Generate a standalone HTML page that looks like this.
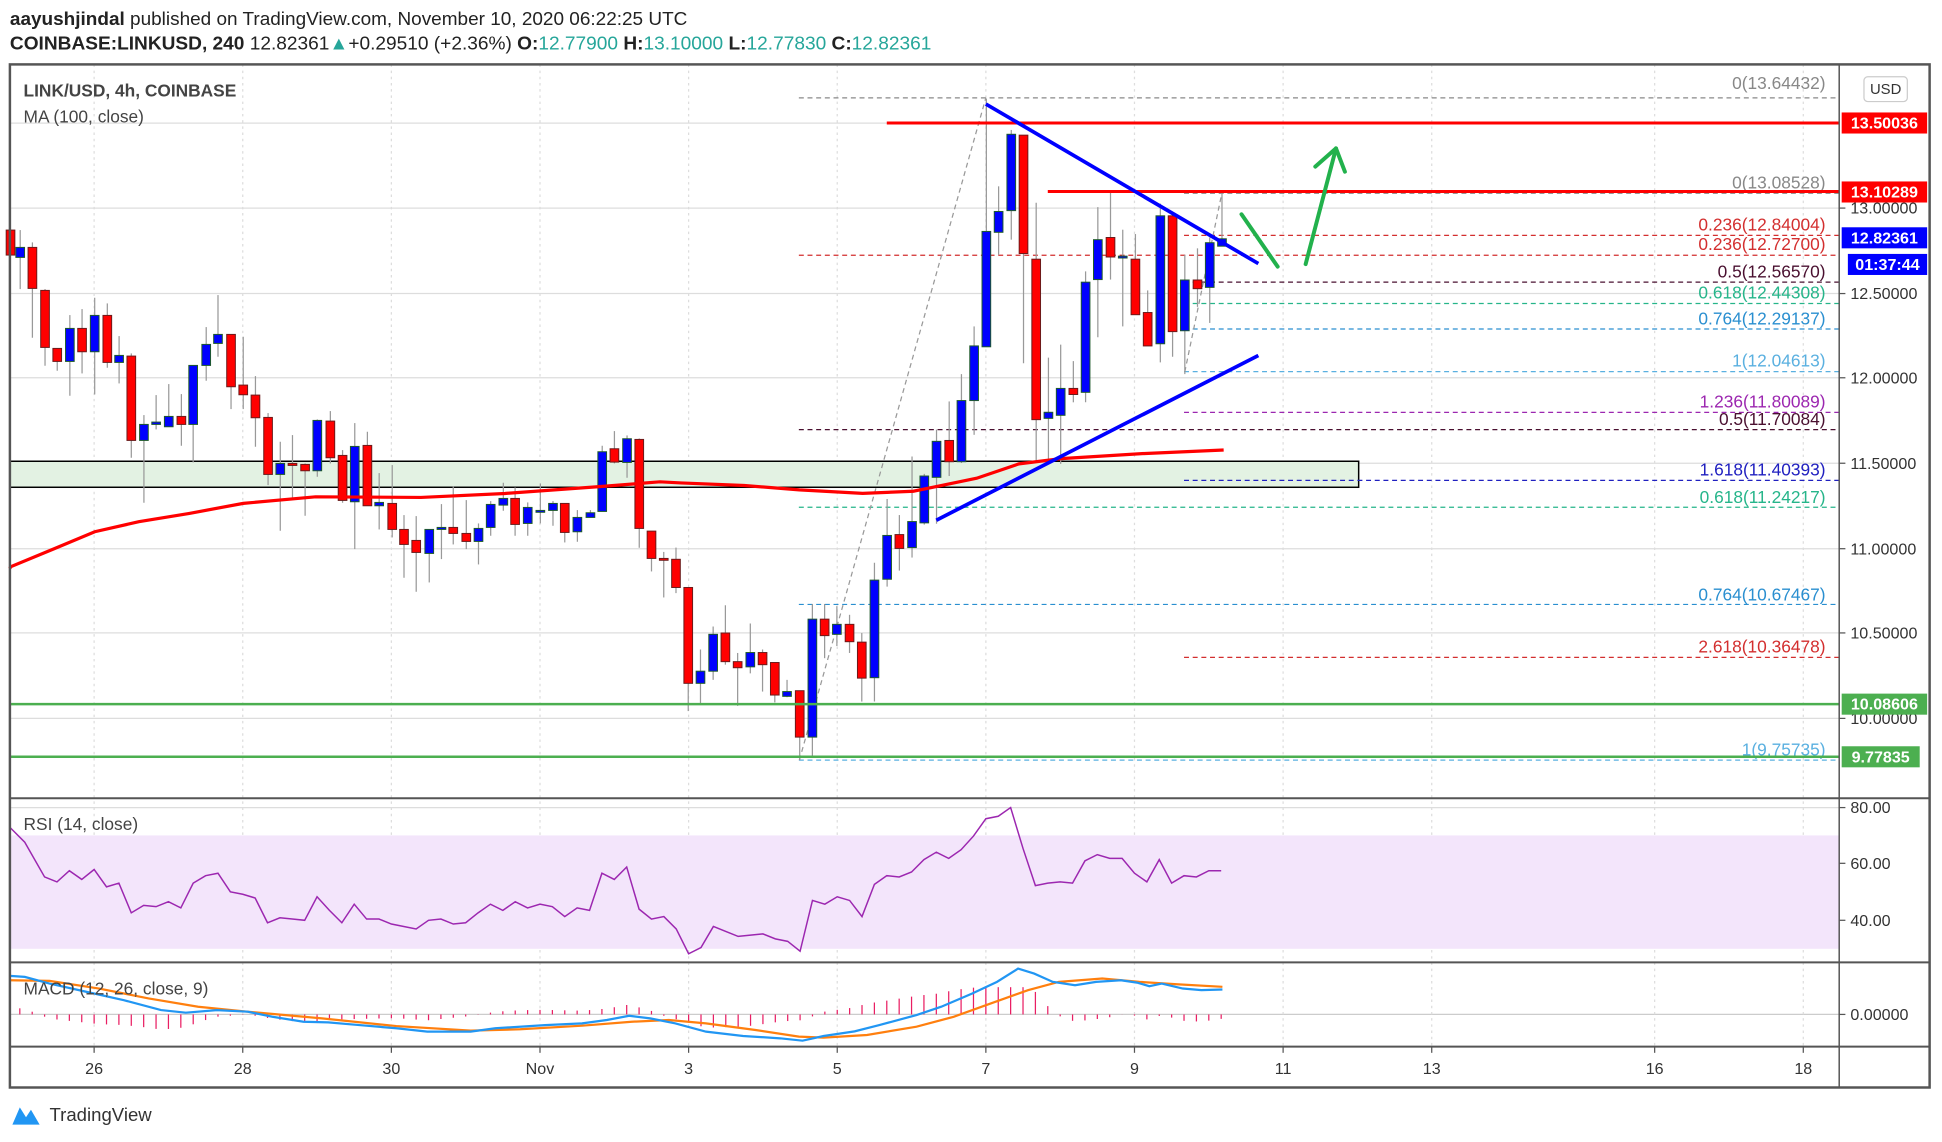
<!DOCTYPE html>
<html><head><meta charset="utf-8"><style>
html,body{margin:0;padding:0;background:#fff;}
svg{display:block;}
text{font-family:"Liberation Sans",sans-serif;}
</style></head><body>
<svg id="s" xmlns="http://www.w3.org/2000/svg" width="1942" height="1142" viewBox="0 0 1568 922" preserveAspectRatio="none">
<rect x="0" y="0" width="1568" height="922" fill="#fff"/>
<text x="8" y="20" font-size="15" fill="#222" textLength="547" lengthAdjust="spacingAndGlyphs"><tspan font-weight="bold">aayushjindal</tspan> published on TradingView.com, November 10, 2020 06:22:25 UTC</text>
<text x="8" y="40" font-size="15" fill="#222" textLength="744" lengthAdjust="spacingAndGlyphs"><tspan font-weight="bold">COINBASE:LINKUSD, 240</tspan>  12.82361<tspan fill="#26a69a">▲</tspan>+0.29510 (+2.36%) <tspan font-weight="bold">O:</tspan><tspan fill="#26a69a">12.77900</tspan> <tspan font-weight="bold">H:</tspan><tspan fill="#26a69a">13.10000</tspan> <tspan font-weight="bold">L:</tspan><tspan fill="#26a69a">12.77830</tspan> <tspan font-weight="bold">C:</tspan><tspan fill="#26a69a">12.82361</tspan></text>
<g id="grid"></g>
<rect x="8" y="372.4" width="1089" height="21" fill="#e3f2e3" stroke="#000" stroke-width="1.2"/>
<g id="fib"></g>
<g id="cand"></g>
<polyline id="ma" fill="none" stroke="#ff0000" stroke-width="2.6"/>
<line x1="716" y1="99.3" x2="1485" y2="99.3" stroke="#ff0000" stroke-width="2.4"/>
<line x1="846" y1="154.6" x2="1485" y2="154.6" stroke="#ff0000" stroke-width="2.4"/>
<line x1="8" y1="568.5" x2="1485" y2="568.5" stroke="#4caf50" stroke-width="2"/>
<line x1="8" y1="611" x2="1485" y2="611" stroke="#4caf50" stroke-width="2"/>
<line x1="796" y1="84" x2="1016" y2="212.8" stroke="#0000ff" stroke-width="3"/>
<line x1="756" y1="420" x2="1016" y2="287" stroke="#0000ff" stroke-width="3"/>
<line x1="1002.4" y1="173" x2="1031.6" y2="215.3" stroke="#22b14c" stroke-width="3.2" stroke-linecap="round"/>
<polyline points="1054.2,213.2 1078.7,119.8" fill="none" stroke="#22b14c" stroke-width="3.2" stroke-linecap="round"/>
<polyline points="1062,134.5 1078.7,119.8 1085.9,138.6" fill="none" stroke="#22b14c" stroke-width="3.2" stroke-linecap="round" stroke-linejoin="round"/>
<rect x="8" y="674.5" width="1477" height="91.5" fill="#f3e5fb"/>
<polyline id="rsi" fill="none" stroke="#9c27b0" stroke-width="1.2"/>
<g id="hist"></g>
<polyline id="sig" fill="none" stroke="#ff7f0e" stroke-width="1.8"/>
<polyline id="macd" fill="none" stroke="#2196f3" stroke-width="1.8"/>
<rect x="8" y="52" width="1550" height="826" fill="none" stroke="#555" stroke-width="2"/>
<line x1="1485" y1="52" x2="1485" y2="878" stroke="#555" stroke-width="1.2"/>
<line x1="8" y1="644.5" x2="1558" y2="644.5" stroke="#555" stroke-width="1.6"/>
<line x1="8" y1="777" x2="1558" y2="777" stroke="#555" stroke-width="1.6"/>
<line x1="8" y1="845" x2="1558" y2="845" stroke="#555" stroke-width="1.6"/>
<g id="axis"></g>
<text x="19" y="78" font-size="14" font-weight="bold" fill="#444">LINK/USD, 4h, COINBASE</text>
<text x="19" y="99" font-size="14" fill="#444">MA (100, close)</text>
<text x="19" y="670" font-size="14" fill="#444">RSI (14, close)</text>
<text x="19" y="803" font-size="14" fill="#444">MACD (12, 26, close, 9)</text>
<rect x="1505" y="62" width="35" height="20" rx="3" fill="#fff" stroke="#ccc"/>
<text x="1522.5" y="76" font-size="12" fill="#333" text-anchor="middle">USD</text>
<path d="M10,908 L16,894 L21,902 L25,896 L32,908 Z" fill="#2196f3"/>
<text x="40" y="905" font-size="15" fill="#333">TradingView</text>
</svg>
<script>
var NS="http://www.w3.org/2000/svg";
function el(p,t,a,txt){var e=document.createElementNS(NS,t);for(var k in a)e.setAttribute(k,a[k]);if(txt!==undefined)e.textContent=txt;p.appendChild(e);return e;}
var grid=document.getElementById('grid');
[99.4,168,237,305,374,443,511,580].forEach(function(y){el(grid,'line',{x1:8,x2:1485,y1:y,y2:y,stroke:'#ddd','stroke-width':1});});
[652,697,743].forEach(function(y){el(grid,'line',{x1:8,x2:1485,y1:y,y2:y,stroke:'#ddd','stroke-width':1});});
el(grid,'line',{x1:8,x2:1485,y1:819,y2:819,stroke:'#ccc','stroke-width':1});
var dates=[[76,'26'],[196,'28'],[316,'30'],[436,'Nov'],[556,'3'],[676,'5'],[796,'7'],[916,'9'],[1036,'11'],[1156,'13'],[1336,'16'],[1456,'18']];
dates.forEach(function(d){el(grid,'line',{x1:d[0],x2:d[0],y1:52,y2:845,stroke:'#ddd','stroke-width':1,'stroke-dasharray':'2,3'});});
var fib=document.getElementById('fib');
var fl=[[645,79,'#888','0(13.64432)',72],[956,156,'#888','0(13.08528)',152],[956,190,'#d32f2f','0.236(12.84004)',186],[645,206.1,'#d32f2f','0.236(12.72700)',202],
[956,227.8,'#4a1030','0.5(12.56570)',224],[956,245,'#26b58a','0.618(12.44308)',241],[956,265.6,'#2a8fd0','0.764(12.29137)',262],[956,300,'#5ab0e0','1(12.04613)',296],
[956,332.9,'#9c27b0','1.236(11.80089)',329],[645,346.9,'#4a1030','0.5(11.70084)',343],[956,387.8,'#2020c0','1.618(11.40393)',384],[645,409.5,'#26b58a','0.618(11.24217)',406],
[645,488,'#2a8fd0','0.764(10.67467)',485],[956,530.7,'#d32f2f','2.618(10.36478)',527],[645,613.7,'#5ab0e0','1(9.75735)',610]];
fl.forEach(function(f){el(fib,'line',{x1:f[0],x2:1485,y1:f[1],y2:f[1],stroke:f[2],'stroke-width':1,'stroke-dasharray':'4,3'});
 el(fib,'text',{x:1474,y:f[4],'font-size':14,fill:f[2],'text-anchor':'end'},f[3]);});
el(fib,'line',{x1:645.4,y1:613.7,x2:796,y2:79,stroke:'#999','stroke-width':1,'stroke-dasharray':'4,3'});
el(fib,'line',{x1:956.6,y1:300.3,x2:986.6,y2:155.7,stroke:'#999','stroke-width':1,'stroke-dasharray':'4,3'});
var c3=[[25,60,135,60,135],[48,142,112,60,237],[77,112,235,97,383],[107,241,412,237,467],[136,415,454,415,482],[166,454,355,315,557],[195,355,425,297,490],[225,425,316,263,553],[255,316,457,280,473],[283,457,436,378,520],[312,438,691,430,743],[342,691,643,615,878],[371,643,636,555,658],[401,650,619,522,650],[431,619,643,552,707],[459,643,466,466,757],[490,466,403,351,512],[518,400,373,255,440],[549,373,530,373,597],[578,525,554,380,597],[607,555,623,498,710],[637,622,793,609,825],[666,793,760,695,962],[695,760,766,675,870],[725,763,782,760,917],[754,782,631,628,800],[785,633,743,603,760],[814,736,871,720,878],[843,875,709,639,1017],[873,706,887,665,887],[901,887,877,789,958],[932,880,958,765,982],[960,958,1003,915,1103],[989,991,1027,918,1145],[1020,1030,958,958,1117],[1049,958,952,882,1047],[1077,952,970,828,1003],[1108,970,994,870,1017],[1137,994,955,940,1063],[1166,952,883,873,977],[1196,885,865,818,902],[1224,865,943,832,977],[1254,940,892,877,977],[1284,904,901,820,940],[1314,901,880,873,947],[1342,880,967,880,997],[1372,965,922,900,995],[1403,922,908,900,922],[1431,904,725,707,904],[1460,716,756,663,760],[1490,757,686,676,803],[1519,688,955,685,1013]];
var c4=[[30,1017,1080,1017,1110],[59,1080,1082,1065,1170],[88,1082,1147,1055,1160],[117,1147,1368,1147,1432],[146,1368,1340,1290,1415],[176,1340,1255,1237,1360],[205,1252,1318,1188,1325],[234,1318,1332,1298,1420],[264,1330,1297,1230,1345],[293,1297,1325,1290,1387],[322,1320,1395,1320,1412],[351,1398,1387,1360,1400],[381,1385,1492,1385,1545],[411,1492,1220,1185,1535],[440,1220,1258,1185,1310],[469,1255,1232,1190,1282],[499,1232,1272,1210,1298],[528,1273,1356,1252,1410],[558,1355,1130,1090,1410],[588,1128,1027,943,1145],[617,1025,1057,980,1108],[647,1055,995,845,1078],[676,998,890,885,1002],[705,893,810,783,1000],[735,808,857,718,890],[764,857,716,655,860],[794,716,590,545,795],[823,592,326,20,592],[852,328,280,222,380],[882,278,102,92,345],[911,104,377,104,630],[941,390,760,260,860],[970,757,743,617,860],[999,750,688,587,862],[1029,688,702,625,720],[1058,697,443,418,720],[1087,437,345,270,570],[1117,340,385,237,437],[1146,385,383,322,545],[1176,390,518,332,518],[1205,513,590,462,590],[1235,585,290,262,628],[1264,290,557,285,615],[1293,555,438,380,655],[1323,438,458,365,500],[1352,455,352,340,537],[1381,360,343,235,360]];
var C=[];
c3.forEach(function(c){C.push([c[0]/2.943,c[1]/3.7155+169.6,c[2]/3.7155+169.6,c[3]/3.7155+169.6,c[4]/3.7155+169.6]);});
c4.forEach(function(c){C.push([c[0]/2.933+515.8,c[1]/2.856+72.7,c[2]/2.856+72.7,c[3]/2.856+72.7,c[4]/2.856+72.7]);});
var cg=document.getElementById('cand');
C.forEach(function(c){var red=c[2]>c[1];var top=Math.min(c[1],c[2]),h=Math.max(Math.abs(c[2]-c[1]),1.5);
 el(cg,'line',{x1:c[0],x2:c[0],y1:c[3],y2:c[4],stroke:'#999','stroke-width':1});
 el(cg,'rect',{x:c[0]-3.5,y:top,width:7,height:h,fill:red?'#ff0000':'#0000ff',stroke:red?'#6b1a1a':'#1e5a2a','stroke-width':0.8});});
var ma3=[[25,1070],[130,1015],[225,965],[330,935],[450,910],[578,880],[750,860],[1000,862],[1200,850],[1420,830],[1568,815]];
var ma4=[[100,906],[250,912],[380,922],[530,930],[650,925],[700,915],[800,895],[900,862],[1000,850],[1200,838],[1385,830]];
var mp=[[8,459]];
ma3.forEach(function(p){mp.push([p[0]/2.943,p[1]/3.7155+169.6]);});
ma4.forEach(function(p){mp.push([p[0]/2.933+515.8,p[1]/2.856+72.7]);});
document.getElementById('ma').setAttribute('points',mp.map(function(p){return p[0].toFixed(1)+','+p[1].toFixed(1);}).join(' '));
var rsi=[[8,668],[20,680],[36,708],[46,712],[56,703],[66,710],[76,702],[86,716],[96,713],[106,737],[116,731],[126,732],[136,728],[146,733],[156,713],[166,707],[176,705],[186,720],[196,722],[206,725],[216,745],[226,741],[236,742],[246,743],[256,724],[266,735],[276,745],[286,730],[296,742],[306,742],[316,746],[326,748],[336,750],[346,743],[356,742],[366,746],[376,745],[386,737],[396,730],[406,735],[416,728],[426,733],[436,730],[446,732],[456,740],[466,733],[476,735],[486,705],[496,710],[506,700],[516,734],[526,742],[536,740],[546,750],[556,770],[566,765],[576,748],[586,752],[596,756],[606,755],[616,754],[626,758],[636,760],[646,768],[656,727],[666,730],[676,724],[686,727],[696,740],[706,714],[716,707],[726,708],[736,704],[746,694],[756,688],[766,693],[776,686],[786,675],[796,661],[806,659],[816,652],[826,685],[836,715],[846,713],[856,712],[866,713],[876,695],[886,690],[896,693],[906,693],[916,705],[926,712],[936,694],[946,713],[956,707],[966,708],[976,703],[986,703]];
document.getElementById('rsi').setAttribute('points',rsi.map(function(p){return p.join(',');}).join(' '));
function my(z){return 775.3+z*0.268;}
var mb=[[8,47],[20,50],[40,70],[70,95],[100,120],[130,150],[150,158],[175,150],[200,155],[220,170],[245,185],[265,187],[290,195],[320,205],[345,215],[380,215],[400,205],[440,195],[470,190],[490,180],[508,167],[525,175],[545,190],[570,215],[600,228],[630,235],[648,242],[665,228],[690,214],[710,195],[740,165],[760,140],[785,100],[805,65],[822,25],[835,40],[850,65],[868,75],[885,65],[905,60],[918,67],[928,78],[938,70],[955,85],[970,90],[987,88]];
var so=[[8,60],[40,62],[80,85],[120,115],[160,140],[200,155],[260,175],[320,198],[380,212],[420,208],[470,197],[510,185],[540,180],[570,190],[610,210],[645,230],[665,233],[700,225],[740,200],[770,170],[800,130],[830,90],[855,65],[890,55],[920,65],[950,72],[987,80]];
document.getElementById('macd').setAttribute('points',mb.map(function(p){return p[0]+','+my(p[1]).toFixed(1);}).join(' '));
document.getElementById('sig').setAttribute('points',so.map(function(p){return p[0]+','+my(p[1]).toFixed(1);}).join(' '));
function interp(a,x){for(var i=0;i<a.length-1;i++){if(x>=a[i][0]&&x<=a[i+1][0]){var t=(x-a[i][0])/(a[i+1][0]-a[i][0]);return a[i][1]+t*(a[i+1][1]-a[i][1]);}}return a[a.length-1][1];}
var hg=document.getElementById('hist');
for(var x=16;x<=987;x+=10){var d=(interp(so,x)-interp(mb,x))*0.268*1.6;var h=Math.max(Math.min(d,22),-14);
 el(hg,'line',{x1:x,x2:x,y1:819,y2:819-h,stroke:'#e91e63','stroke-width':1});}
var ax=document.getElementById('axis');
[[168,'13.00000'],[237,'12.50000'],[305,'12.00000'],[374,'11.50000'],[443,'11.00000'],[511,'10.50000'],[580,'10.00000'],[652,'80.00'],[697,'60.00'],[743,'40.00'],[819,'0.00000']].forEach(function(t){
 el(ax,'line',{x1:1485,x2:1490,y1:t[0],y2:t[0],stroke:'#555'});
 el(ax,'text',{x:1494,y:t[0]+4.5,'font-size':13,fill:'#333'},t[1]);});
dates.forEach(function(d){el(ax,'line',{x1:d[0],x2:d[0],y1:845,y2:850,stroke:'#555'});
 el(ax,'text',{x:d[0],y:867,'font-size':13,fill:'#333','text-anchor':'middle'},d[1]);});
[[99.3,'#ff0000','13.50036',1487,1556],[155,'#ff0000','13.10289',1487,1556],[192,'#0000ff','12.82361',1487,1556],[213.5,'#0000ff','01:37:44',1492,1556],[568.5,'#4caf50','10.08606',1487,1556],[611,'#4caf50','9.77835',1487,1550]].forEach(function(b){
 el(ax,'rect',{x:b[3],y:b[0]-8.5,width:b[4]-b[3],height:17,fill:b[1]});
 el(ax,'text',{x:(b[3]+b[4])/2,y:b[0]+4.5,'font-size':13,'font-weight':'bold',fill:'#fff','text-anchor':'middle'},b[2]);});
</script>
</body></html>
